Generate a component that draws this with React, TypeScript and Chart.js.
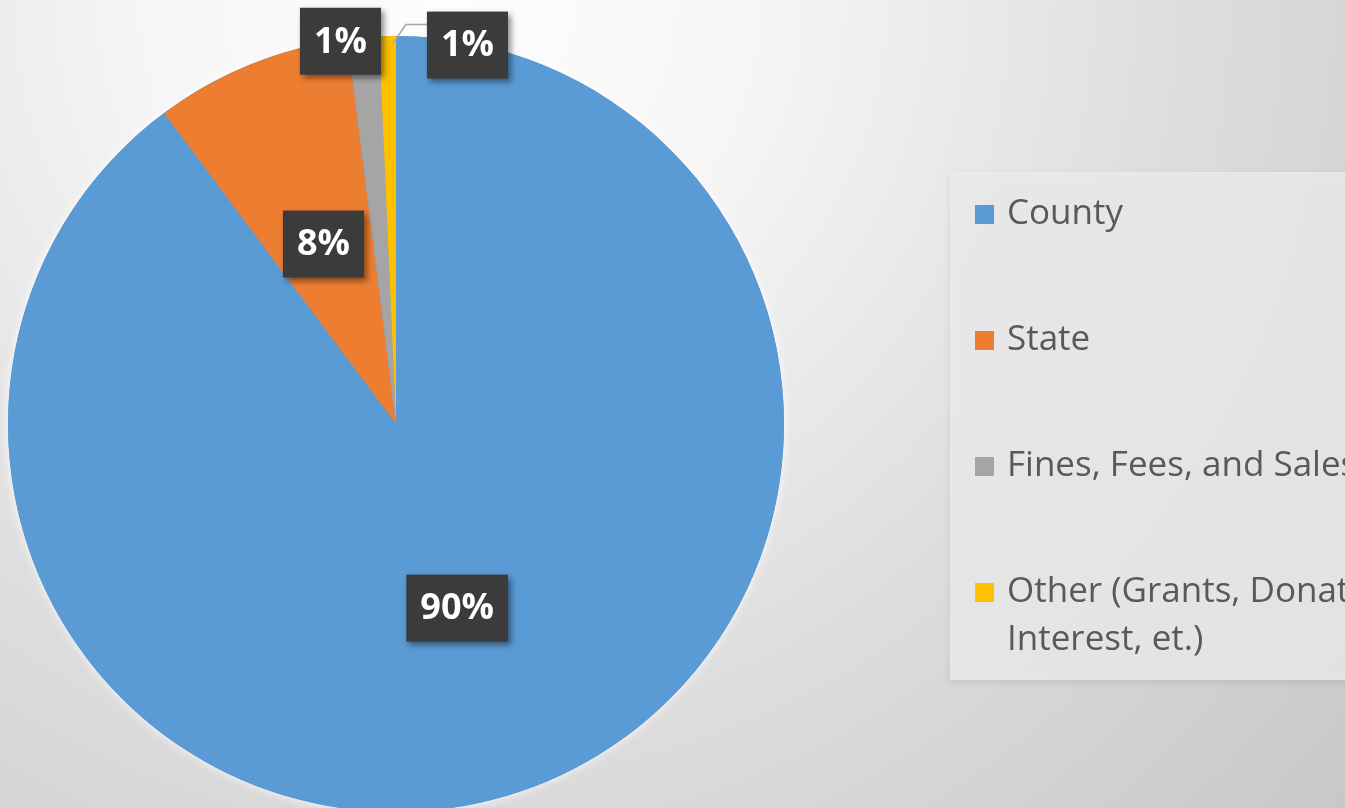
import React, { useEffect, useRef } from "react";
import { Chart, registerables } from "chart.js";

Chart.register(...registerables);

// ---- data ----
const categories = [
  "County",
  "State",
  "Fines, Fees, and Sales",
  "Other (Grants, Donations, Interest, et.)",
];
const values = [89.8, 8.2, 1.3, 0.7];
const percentLabels = ["90%", "8%", "1%", "1%"];
const sliceColors = ["#5b9bd5", "#ed7d31", "#a5a5a5", "#ffc000"];

// ---- label placement (radius fraction along slice mid-angle + pixel nudge) ----
const labelPlacement = [
  { r: 0.5, dx: 0, dy: 0, leader: false },
  { r: 0.5, dx: 0, dy: 0, leader: false },
  { r: 0.99, dx: -23, dy: 0, leader: false },
  { r: 1.0, dx: 80, dy: 9, leader: true },
];

const W = 1345;
const H = 840;

const backgroundPlugin = {
  id: "bgGradient",
  beforeDraw(chart: any) {
    const { ctx } = chart;
    ctx.save();
    const g = ctx.createRadialGradient(450, 0, 0, 450, 0, 1200);
    g.addColorStop(0, "#fdfdfd");
    g.addColorStop(0.25, "#f6f6f6");
    g.addColorStop(0.6, "#dedede");
    g.addColorStop(1, "#c8c8c8");
    ctx.fillStyle = g;
    ctx.fillRect(0, 0, W, H);
    ctx.restore();
  },
  beforeDatasetsDraw(chart: any) {
    const arc = chart.getDatasetMeta(0).data[0];
    if (!arc) return;
    const { ctx } = chart;
    ctx.save();
    ctx.shadowColor = "rgba(255,255,255,0.9)";
    ctx.shadowBlur = 10;
    ctx.fillStyle = sliceColors[0];
    ctx.beginPath();
    ctx.arc(arc.x, arc.y, arc.outerRadius, 0, Math.PI * 2);
    ctx.fill();
    ctx.restore();
  },
};

function wrapText(ctx: CanvasRenderingContext2D, text: string, maxWidth: number) {
  const words = text.split(" ");
  const lines: string[] = [];
  let cur = "";
  for (const w of words) {
    const test = cur ? cur + " " + w : w;
    if (cur && ctx.measureText(test).width > maxWidth) {
      lines.push(cur);
      cur = w;
    } else {
      cur = test;
    }
  }
  if (cur) lines.push(cur);
  return lines;
}

const labelsPlugin = {
  id: "pctLabels",
  afterDatasetsDraw(chart: any) {
    const { ctx } = chart;
    const meta = chart.getDatasetMeta(0);
    ctx.save();
    ctx.font = "bold 36px 'Open Sans'";
    ctx.textAlign = "center";
    ctx.textBaseline = "middle";
    meta.data.forEach((arc: any, i: number) => {
      const p = labelPlacement[i];
      const mid = (arc.startAngle + arc.endAngle) / 2;
      const R = arc.outerRadius;
      const ex = arc.x + Math.cos(mid) * R * p.r;
      const ey = arc.y + Math.sin(mid) * R * p.r;
      const cx = ex + p.dx;
      const cy = ey + p.dy;
      const text = percentLabels[i];
      const tw = ctx.measureText(text).width;
      const bw = tw + 28;
      const bh = 67;
      const bx = cx - bw / 2;
      const by = cy - bh / 2;
      if (p.leader) {
        ctx.save();
        ctx.strokeStyle = "#a6a6a6";
        ctx.lineWidth = 1.5;
        ctx.beginPath();
        ctx.moveTo(arc.x + Math.cos(mid) * R * 0.98 + 5, arc.y + Math.sin(mid) * R * 0.98);
        ctx.lineTo(bx - 21, by + 13);
        ctx.lineTo(bx, by + 13);
        ctx.stroke();
        ctx.restore();
      }
      ctx.save();
      ctx.shadowColor = "rgba(0,0,0,0.45)";
      ctx.shadowBlur = 6;
      ctx.shadowOffsetX = 3;
      ctx.shadowOffsetY = 3;
      ctx.fillStyle = "#3b3b3b";
      ctx.fillRect(bx, by, bw, bh);
      ctx.restore();
      ctx.fillStyle = "#ffffff";
      ctx.fillText(text, cx, cy + 1);
    });
    ctx.restore();
  },
};

const legendPlugin = {
  id: "customLegend",
  afterDraw(chart: any) {
    const { ctx } = chart;
    const labels = chart.data.labels as string[];
    const colors = chart.data.datasets[0].backgroundColor as string[];
    ctx.save();
    // legend box
    ctx.save();
    ctx.shadowColor = "rgba(0,0,0,0.10)";
    ctx.shadowBlur = 8;
    ctx.shadowOffsetY = 3;
    ctx.fillStyle = "rgba(236,236,236,0.8)";
    ctx.fillRect(950, 172, 430, 508);
    ctx.restore();

    ctx.font = "35px 'Open Sans'";
    ctx.textAlign = "left";
    ctx.textBaseline = "middle";
    const top = 214;
    const spacing = 126;
    const lineH = 48;
    labels.forEach((lab, i) => {
      const y = top + i * spacing;
      ctx.fillStyle = colors[i];
      ctx.fillRect(975, y - 9, 19, 19);
      ctx.fillStyle = "#595959";
      const lines = wrapText(ctx, lab, 450);
      lines.forEach((ln, j) => ctx.fillText(ln, 1007, y + j * lineH));
    });
    ctx.restore();
  },
};

export default function App() {
  const ref = useRef<HTMLCanvasElement | null>(null);
  useEffect(() => {
    if (!ref.current) return;
    const chart = new Chart(ref.current, {
      type: "pie",
      data: {
        labels: categories,
        datasets: [
          {
            data: values,
            backgroundColor: sliceColors,
            borderWidth: 0,
          },
        ],
      },
      options: {
        responsive: false,
        animation: false,
        devicePixelRatio: 1,
        layout: { padding: { left: 8, right: 561, top: 36, bottom: 28 } },
        plugins: {
          legend: { display: false },
          tooltip: { enabled: false },
        },
      },
      plugins: [backgroundPlugin, labelsPlugin, legendPlugin],
    });
    return () => chart.destroy();
  }, []);
  return (
    <div
      style={{
        position: "absolute",
        left: 0,
        top: 0,
        width: W,
        height: 808,
        overflow: "hidden",
        background: "#e0e0e0",
      }}
    >
      <canvas ref={ref} width={W} height={H} style={{ display: "block", width: W, height: H }} />
    </div>
  );
}
